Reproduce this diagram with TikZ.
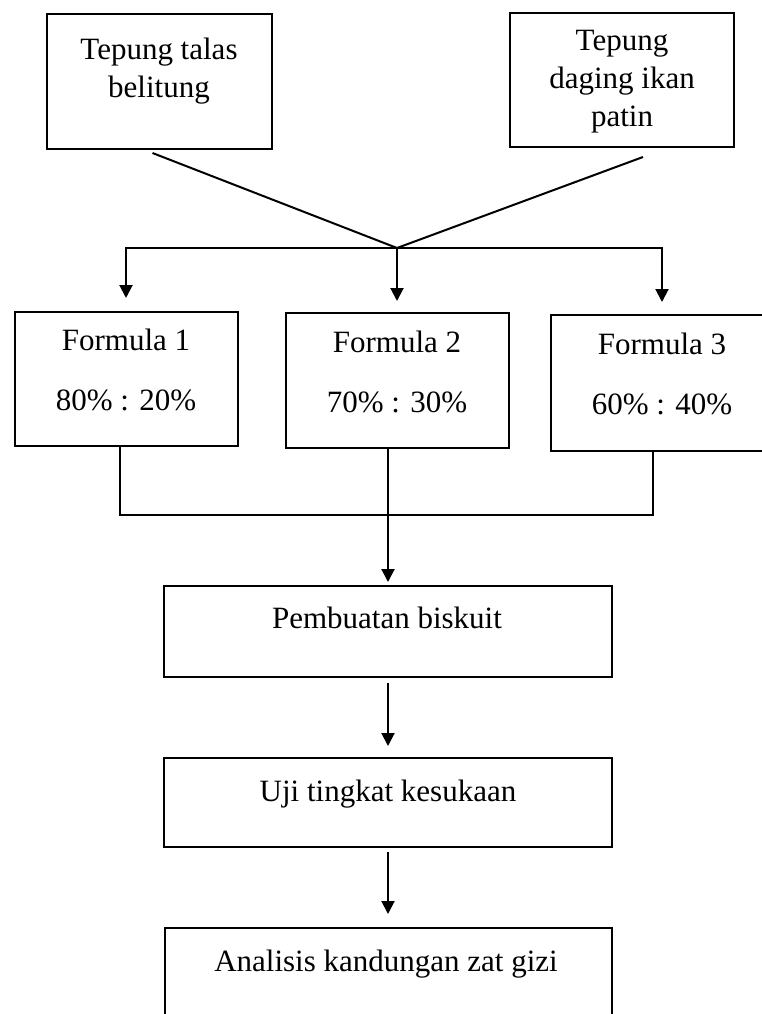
\documentclass[tikz,border=0pt]{standalone}
\usepackage{fontspec}
\setmainfont{Liberation Serif}
\usepackage{tikz}
\usetikzlibrary{positioning}
\usetikzlibrary{arrows.meta}

\begin{document}
\begin{tikzpicture}[x=1pt,y=-1pt,
        kotak/.style={draw,line width=2pt,inner sep=0pt},
        teks/.style={font=\fontsize{31}{38}\selectfont,align=center},
        satu/.style={teks,text height=21.7pt,text depth=7.75pt},
        garis/.style={line width=2pt},
        panah/.style={garis,-{Triangle[length=13pt,width=13pt]}}]
            \useasboundingbox (0,0) rectangle (762,1014);
            \clip (0,0) rectangle (762,1014);
            % Bahan
            \node[kotak,minimum width=225pt,minimum height=135pt] (talas) at (159.5,81.5) {};
            \node[kotak,minimum width=224pt,minimum height=134pt] (patin) at (622,80) {};
            \node[teks] (talasT) at (159,71) {Tepung talas\\belitung};
            \node[teks] (patinT) at (622,81.5) {Tepung\\daging ikan\\patin};
            % Formula
            \node[kotak,minimum width=223pt,minimum height=134pt] (f1) at (126,379) {};
            \node[kotak,minimum width=223pt,minimum height=135pt] (f2) at (397,380.5) {};
            \node[kotak,minimum width=222pt,minimum height=136pt] (f3) at (662,383) {};
            \node[teks] (f1T) at (126,370) {Formula 1\\[22pt]80\% : 20\%};
            \node[teks] (f2T) at (397,372) {Formula 2\\[22pt]70\% : 30\%};
            \node[teks] (f3T) at (662,374) {Formula 3\\[22pt]60\% : 40\%};
            % Tahapan
            \node[kotak,minimum width=448pt,minimum height=91pt] (buat) at (388,631.5) {};
            \node[kotak,minimum width=448pt,minimum height=89pt] (uji) at (388,802.5) {};
            \node[kotak,minimum width=447pt,minimum height=100pt] (analisis) at (388,978) {};
            \node[satu] (buatT) at (387,622) {Pembuatan biskuit};
            \node[satu] (ujiT) at (388,795) {Uji tingkat kesukaan};
            \node[satu] (analisisT) at (386,965) {Analisis kandungan zat gizi};
            % Garis penghubung
            \coordinate (j) at (397,248);
            \coordinate (k) at (388,515);
            \draw[garis] ([xshift=-7pt,yshift=-3pt]talas.south) -- (j);
            \draw[garis] ([xshift=21pt,yshift=-9pt]patin.south) -- (j);
            \draw[panah,shorten >=13pt] (j) -| (f1);
            \draw[panah,shorten >=11pt] (j) -- (f2);
            \draw[panah,shorten >=12pt] (j) -| (f3);
            \draw[garis] ([xshift=-6pt]f1.south) |- (k);
            \draw[garis] ([xshift=-9pt]f3.south) |- (k);
            \draw[garis] (k |- f2.south) -- (k);
            \draw[panah,shorten >=3pt] (k) -- (buat);
            \draw[panah,shorten <=5pt,shorten >=11pt] (buat) -- (uji);
            \draw[panah,shorten <=4pt,shorten >=13pt] (uji) -- (analisis);
        \end{tikzpicture}
\end{document}
